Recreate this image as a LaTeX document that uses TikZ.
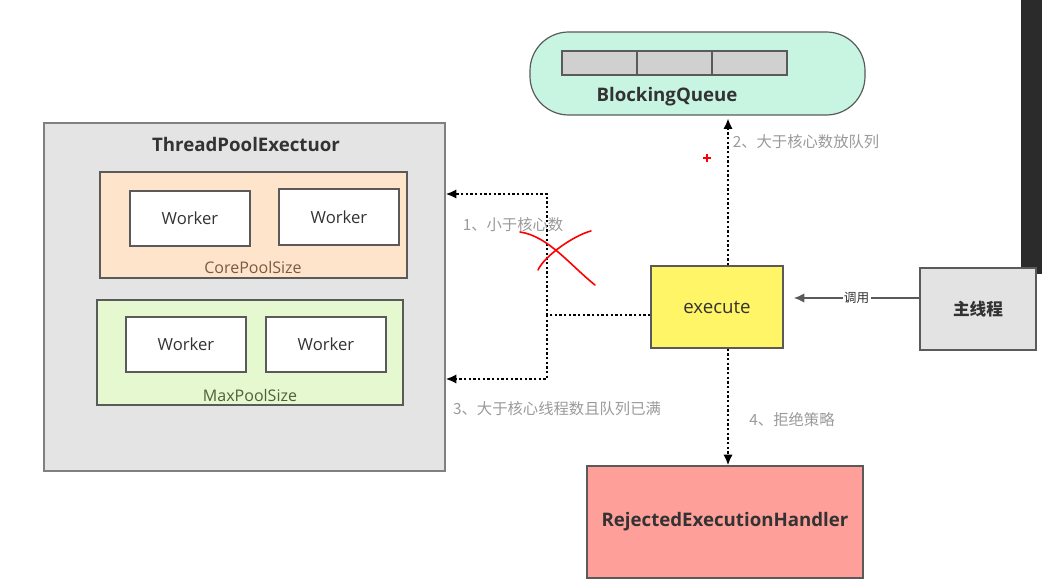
\documentclass[tikz,border=0pt]{standalone}
\usepackage{fontspec}
\setmainfont{Open Sans}
\newfontfamily\cjk{Noto Sans CJK SC}
\usetikzlibrary{arrows.meta,fit,positioning}

\definecolor{queuegreen}{HTML}{C8F5E2}
\definecolor{cellgray}{HTML}{D0D0D0}
\definecolor{poolgray}{HTML}{E4E4E4}
\definecolor{corepeach}{HTML}{FFE4CC}
\definecolor{maxgreen}{HTML}{E6F8D0}
\definecolor{execyellow}{HTML}{FFF566}
\definecolor{maingray}{HTML}{E3E3E3}
\definecolor{rejectred}{HTML}{FF9F99}
\definecolor{notegray}{HTML}{9A9A9A}
\definecolor{textdark}{HTML}{333333}
\definecolor{corebrown}{HTML}{7A5B3E}
\definecolor{maxolive}{HTML}{4D6133}
\definecolor{edgegray}{HTML}{5A5A5A}
\definecolor{darkbar}{HTML}{2B2B2B}

\begin{document}
\begin{tikzpicture}[x=0.75pt,y=-0.75pt]
                \tikzset{box/.style={draw=edgegray, line width=0.9pt, inner sep=0pt},
                worker/.style={box, fill=white, label={[text=textdark, font=\fontsize{12.5}{15}\selectfont]center:Worker}},
                title/.style={text=textdark, font=\bfseries\fontsize{14}{16}\selectfont},
                note/.style={text=notegray, font=\cjk\fontsize{11.5}{13}\selectfont},
                flow/.style={line width=1.7pt, dash pattern=on 1.7pt off 1.8pt, -{Latex[length=8pt,width=7pt]}}}

                \useasboundingbox (0,0) rectangle (1042,584);
                \fill[darkbar] (1021,0) rectangle (1042,274);

                % queue
                \node[box, fill=queuegreen, rounded corners=29pt, fit={(530,32) (865,115)}] (queue) {};
                \node[box, fill=cellgray, fit={(562,51) (637,75)}] (cell1) {};
                \node[box, fill=cellgray, fit={(637,51) (712,75)}] (cell2) {};
                \node[box, fill=cellgray, fit={(712,51) (787,75)}] (cell3) {};
                \node[title] (queuelabel) at (667,97) {BlockingQueue};

                % thread pool
                \node[box, draw=gray, fill=poolgray, fit={(44,123) (445,471)}] (pool) {};
                \node[title] (pooltitle) at (246,145) {ThreadPoolExectuor};
                \node[box, fill=corepeach, fit={(100,172) (407,278)}] (core) {};
                \node[worker, fit={(130,191) (250,246)}] (w1) {};
                \node[worker, fit={(279,189) (399,245)}] (w2) {};
                \node[text=corebrown, font=\fontsize{12}{14}\selectfont] (corelabel) at (253,268) {CorePoolSize};
                \node[box, fill=maxgreen, fit={(97,300) (403,405)}] (max) {};
                \node[worker, fit={(126,317) (246,372)}] (w3) {};
                \node[worker, fit={(266,317) (386,372)}] (w4) {};
                \node[text=maxolive, font=\fontsize{12}{14}\selectfont] (maxlabel) at (250,396) {MaxPoolSize};

                \node[box, fill=execyellow, fit={(651,266) (783,348)},
                    label={[text=textdark, font=\fontsize{14}{16}\selectfont]center:execute}] (exec) {};
                \node[box, fill=maingray, fit={(920,268) (1036,350)},
                    label={[text=textdark, font=\cjk\bfseries\fontsize{12.5}{15}\selectfont]center:主线程}] (main) {};
                \node[box, fill=rejectred, fit={(587,466) (863,578)},
                    label={[title]center:RejectedExecutionHandler}] (reject) {};

                \coordinate (split) at (547,315);
                \coordinate (lane) at (728,0);
                \draw[flow] (exec.west |- split) -- (split) -- (split |- 0,194) -- (pool.east |- 0,194);
                \draw[flow] (split) -- (split |- 0,379) -- (pool.east |- 0,379);
                \draw[flow] (exec.north -| lane) -- ([yshift=-2pt]queue.south -| lane);
                \draw[flow] (exec.south -| lane) -- (reject.north -| lane);
                \draw[edgegray, line width=1.4pt, -{Latex[length=8pt,width=7pt]}] (main.west |- 0,298) -- ([xshift=7.5pt]exec.east |- 0,298)
                    node[midway, fill=white, inner sep=1pt, text=textdark, font=\cjk\fontsize{9.5}{11}\selectfont] (calllabel) {调用};

                \node[note] (note1) at (513,225) {1、小于核心数};
                \node[note] (note2) at (806,142) {2、大于核心数放队列};
                \node[note] (note3) at (557,409) {3、大于核心线程数且队列已满};
                \node[note] (note4) at (792,420) {4、拒绝策略};

                % red marks
                \draw[red, line width=1.2pt, line cap=round] (520,232) .. controls (548,236) and (570,265) .. (595,285);
                \draw[red, line width=1.2pt, line cap=round] (538,270) .. controls (545,255) and (575,235) .. (591,231);
                \draw[red, line width=1pt] (703,158) -- (711,158) (707,154) -- (707,162);
            \end{tikzpicture}
\end{document}
